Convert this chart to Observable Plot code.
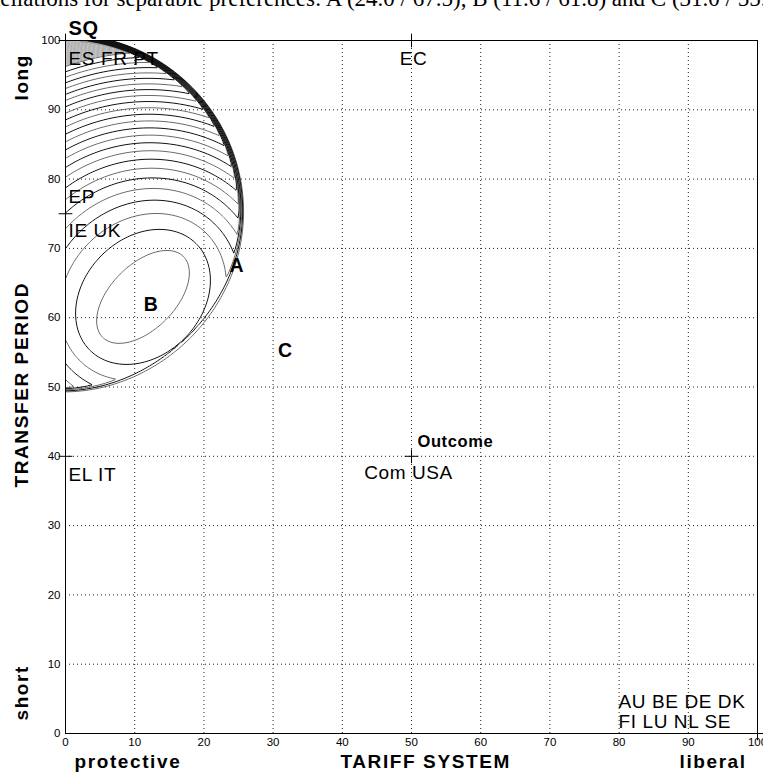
<!DOCTYPE html>
<html>
<head>
<meta charset="utf-8">
<script src="https://cdn.jsdelivr.net/npm/d3@7"></script>
<script src="https://cdn.jsdelivr.net/npm/@observablehq/plot@0.6"></script>
<style>
  body { margin: 0; background: #fff; }
  #chart svg { display: block; }
</style>
</head>
<body>
<div id="chart"></div>
<script>
// Axis ticks
const xTicks = [0, 10, 20, 30, 40, 50, 60, 70, 80, 90, 100];
const yTicks = [0, 10, 20, 30, 40, 50, 60, 70, 80, 90, 100];

// Actor positions (tariff system, transfer period) and their labels
const actorLabels = ["ES FR PT", "EC", "EP", "IE UK", "EL IT", "Com USA", "AU BE DE DK", "FI LU NL SE"];
const actorX = [0, 50, 0, 0, 0, 50, 100, 100];
const actorY = [100, 100, 75, 75, 40, 40, 0, 0];

// Plus markers for the positions
const markerX = [0, 50, 0, 0, 50, 100];
const markerY = [100, 100, 75, 40, 40, 0];

// Status quo and outcome
const statusQuo = [0, 100];
const outcome = [50, 40];

// Predicted constellations A, B, C
const pointNames = ["A", "B", "C"];
const pointX = [24.0, 11.6, 31.0];
const pointY = [67.5, 61.8, 55.2];

// Axis titles
const yTitle = "TRANSFER PERIOD";
const yEnds = ["short", "long"];
const xTitle = "TARIFF SYSTEM";
const xEnds = ["protective", "liberal"];

// Preference contours: ideal point, focal geometry, level spacing
const idealPoint = [11.2, 63.0];
const focalHalfDistance = 6.8;
const focalAngle = 45;
const innerLevel = 68;
const levelStep = 50;
const levelCount = 25;
const outerLevelStep = 10;
const outerLevelMax = 1600;

// Win-set of the IE UK position against the status quo
const winsetCenter = [0, 75];
const winsetRadius = 25;
const edgeWidth = 0.9;

const headline = `Constellations for separable preferences: A (${pointX[0].toFixed(1)} / ${pointY[0].toFixed(1)}), B (${pointX[1].toFixed(1)} / ${pointY[1].toFixed(1)}) and C (${pointX[2].toFixed(1)} / ${pointY[2].toFixed(1)})`;

const ang = focalAngle * Math.PI / 180;
const focus1 = [idealPoint[0] + focalHalfDistance * Math.cos(ang), idealPoint[1] + focalHalfDistance * Math.sin(ang)];
const focus2 = [idealPoint[0] - focalHalfDistance * Math.cos(ang), idealPoint[1] - focalHalfDistance * Math.sin(ang)];

// Loss relative to the ideal point; it fades out just beyond the win-set edge
function loss(x, y) {
  const s = (Math.hypot(x - focus1[0], y - focus1[1]) + Math.hypot(x - focus2[0], y - focus2[1])) / 2;
  const d = Math.hypot(x - winsetCenter[0], y - winsetCenter[1]);
  if (d <= winsetRadius) return s * s;
  const fade = 1 - (d - winsetRadius) / edgeWidth;
  return fade > 0 ? s * s * fade : 0;
}

const levels = d3.range(levelCount).map(k => innerLevel + levelStep * k);
const grayLevels = levels.filter((_, i) => i % 2 === 0);
const blackLevels = levels.filter((_, i) => i % 2 === 1);
const outerLevels = d3.range(levels[levels.length - 1] + outerLevelStep, outerLevelMax, outerLevelStep);

const sans = "Liberation Sans, Arial, Helvetica, sans-serif";
const narrow = "Liberation Sans Narrow, Arial Narrow, Liberation Sans, sans-serif";
const contourArea = {x1: 0, y1: 0, x2: 100, y2: 100, value: loss, fill: "none", pixelSize: 1};

function actorLabel(i, opts) {
  return Plot.text([i], {
    x: d => actorX[d], y: d => actorY[d], text: d => actorLabels[d],
    fontSize: 19, fontFamily: sans, lineAnchor: "middle", ...opts
  });
}

function pointLabel(i) {
  return Plot.text([i], {
    x: d => pointX[d], y: d => pointY[d], text: d => pointNames[d],
    fontSize: 19.5, fontWeight: "bold", fontFamily: sans, textAnchor: "start",
    lineAnchor: "middle", dx: -2
  });
}

const titleStyle = {fontWeight: "bold", fontSize: 19, textAnchor: "start"};

const chart = Plot.plot({
  width: 763,
  height: 773,
  marginLeft: 65,
  marginRight: 6,
  marginTop: 40,
  marginBottom: 40,
  x: {domain: [0, 100]},
  y: {domain: [0, 100]},
  style: {fontFamily: sans, fontSize: "10px", color: "black", background: "white"},
  marks: [
    Plot.gridX(xTicks, {stroke: "#222", strokeOpacity: 1, strokeDasharray: "1,3"}),
    Plot.gridY(yTicks, {stroke: "#222", strokeOpacity: 1, strokeDasharray: "1,3"}),
    Plot.contour({...contourArea, thresholds: outerLevels, stroke: "#9a9a9a", strokeWidth: 0.8}),
    Plot.contour({...contourArea, thresholds: grayLevels, stroke: "#6a6a6a", strokeWidth: 1}),
    Plot.contour({...contourArea, thresholds: blackLevels, stroke: "#111", strokeWidth: 1}),
    Plot.frame({stroke: "black"}),
    Plot.dot(markerX, {x: d => d, y: (d, i) => markerY[i], symbol: "plus", r: 4.5, stroke: "black", strokeWidth: 1}),
    Plot.axisX({ticks: xTicks, tickSize: 0, tickPadding: 4, fontSize: 11.5, fontFamily: narrow, label: null}),
    Plot.axisY({ticks: yTicks, tickSize: 0, tickPadding: 5, fontSize: 11.5, fontFamily: narrow, label: null}),

    // Actor labels
    actorLabel(0, {textAnchor: "start", dx: 3, dy: 18}),
    actorLabel(1, {textAnchor: "middle", dx: 2, dy: 18}),
    actorLabel(2, {textAnchor: "start", dx: 3, dy: -17}),
    actorLabel(3, {textAnchor: "start", dx: 3, dy: 17.5}),
    actorLabel(4, {textAnchor: "start", dx: 3, dy: 18.5}),
    actorLabel(5, {textAnchor: "middle", dx: -3, dy: 16.5}),
    actorLabel(6, {textAnchor: "start", dx: -139, dy: -32}),
    actorLabel(7, {textAnchor: "start", dx: -139, dy: -12}),

    Plot.text(["SQ"], {x: statusQuo[0], y: statusQuo[1], fontWeight: "bold", fontSize: 20,
      textAnchor: "start", lineAnchor: "middle", dx: 3, dy: -12}),
    Plot.text(["Outcome"], {x: outcome[0], y: outcome[1], fontWeight: "bold", fontSize: 16.5,
      textAnchor: "start", lineAnchor: "middle", dx: 6, dy: -14.5}),

    pointLabel(0), pointLabel(1), pointLabel(2),

    // Axis titles
    Plot.text([yTitle], {...titleStyle, frameAnchor: "bottom-left", rotate: -90, dx: -43.5, dy: -246, lineAnchor: "middle"}),
    Plot.text([yEnds[1]], {...titleStyle, frameAnchor: "top-left", rotate: -90, dx: -43.5, dy: 60, lineAnchor: "middle"}),
    Plot.text([yEnds[0]], {...titleStyle, frameAnchor: "bottom-left", rotate: -90, dx: -43.5, dy: -13, lineAnchor: "middle"}),
    Plot.text([xTitle], {...titleStyle, frameAnchor: "bottom-left", dx: 275, dy: 34, lineAnchor: "bottom"}),
    Plot.text([xEnds[0]], {...titleStyle, frameAnchor: "bottom-left", dx: 9, dy: 34, lineAnchor: "bottom"}),
    Plot.text([xEnds[1]], {...titleStyle, frameAnchor: "bottom-left", dx: 614, dy: 34, lineAnchor: "bottom"}),

    // Running headline of the page
    Plot.text([headline], {frameAnchor: "top-left", dx: -65 - 54, dy: -35, lineAnchor: "bottom",
      textAnchor: "start", fontFamily: "Liberation Serif, Times New Roman, serif", fontSize: 23})
  ]
});

// Letter spacing of the labels and axis titles
const spacing = new Map([
  ...[yTitle, xTitle, ...yEnds, ...xEnds].map(t => [t, "1.6px"]),
  ...[...actorLabels, ...pointNames, "SQ", "Outcome"].map(t => [t, "0.6px"])
]);
d3.select(chart).selectAll("text").each(function () {
  const ls = spacing.get(this.textContent);
  if (ls) this.style.letterSpacing = ls;
});

document.getElementById("chart").append(chart);
</script>
</body>
</html>
